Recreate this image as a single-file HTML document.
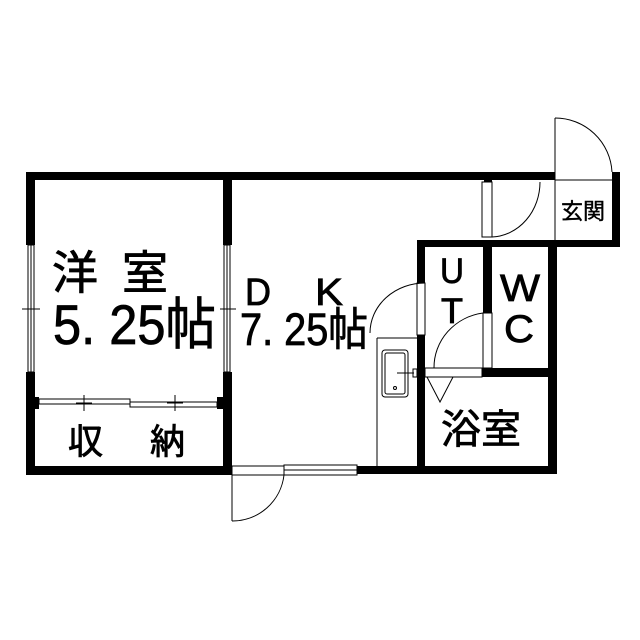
<!DOCTYPE html>
<html><head><meta charset="utf-8"><style>html,body{margin:0;padding:0;background:#fff}svg{display:block}</style></head>
<body>
<svg width="640" height="640" viewBox="0 0 640 640" xmlns="http://www.w3.org/2000/svg">
<rect width="640" height="640" fill="#fff"/>
<g fill="#000">
<rect x="26" y="172" width="529" height="8"/>
<rect x="26" y="172" width="9" height="73"/>
<rect x="26" y="372" width="9" height="103"/>
<rect x="26" y="466" width="206" height="9"/>
<rect x="223" y="172" width="9" height="73"/>
<rect x="223" y="372" width="9" height="103"/>
<rect x="357" y="466" width="200" height="8"/>
<rect x="612" y="172" width="8" height="75"/>
<rect x="417" y="240" width="203" height="7"/>
<rect x="484" y="172" width="8" height="10"/>
<rect x="417" y="240" width="8" height="43"/>
<rect x="417" y="335" width="8" height="139"/>
<rect x="483" y="240" width="9" height="73"/>
<rect x="482" y="368" width="73" height="9"/>
<rect x="548" y="240" width="9" height="234"/>
<rect x="33" y="397" width="6" height="12"/>
<rect x="217" y="397" width="6" height="12"/>
</g>
<g fill="none" stroke="#000" stroke-width="1">
<rect x="28" y="245" width="6" height="127"/>
<line x1="31" y1="245" x2="31" y2="372"/>
<line x1="22" y1="309" x2="40" y2="309"/>
<rect x="224" y="245" width="6" height="127"/>
<line x1="227" y1="245" x2="227" y2="372"/>
<line x1="220" y1="309" x2="236" y2="309"/>
<rect x="39" y="399" width="91" height="5"/>
<rect x="130" y="402" width="87" height="5"/>
<line x1="84" y1="395" x2="84" y2="411"/>
<line x1="76" y1="403" x2="92" y2="403"/>
<line x1="175" y1="395" x2="175" y2="411"/>
<line x1="167" y1="403" x2="183" y2="403"/>
<rect x="232" y="466" width="52" height="9"/>
<line x1="232" y1="475" x2="232" y2="521"/>
<path d="M232 521 A52 52 0 0 0 284 475"/>
<rect x="284" y="465" width="73" height="10"/>
<line x1="284" y1="470" x2="357" y2="470"/>
<line x1="555" y1="118" x2="555" y2="240"/>
<path d="M555 118 A57 57 0 0 1 612 172"/>
<line x1="555" y1="180" x2="612" y2="180"/>
<rect x="482" y="182" width="10" height="55"/>
<path d="M492 237 A50 55 0 0 0 540 182"/>
<rect x="417" y="283" width="8" height="52"/>
<path d="M425 283 A55 50 0 0 0 370 333"/>
<rect x="483" y="313" width="9" height="55"/>
<path d="M483 313 A57 55 0 0 0 434 368"/>
<rect x="425" y="368" width="57" height="9"/>
<path d="M427 377 L440 402 L453 377"/>
<line x1="377" y1="338" x2="377" y2="466"/>
<line x1="377" y1="338" x2="417" y2="338"/>
<rect x="382" y="350" width="26" height="47" rx="3"/>
<rect x="385" y="353" width="20" height="41" rx="2"/>
<line x1="397" y1="373" x2="414" y2="373"/>
<rect x="413" y="369" width="4" height="8"/>
<circle cx="395" cy="388" r="1.5"/>
</g>
<g font-family="'Liberation Sans','Noto Sans CJK JP',sans-serif" fill="#000" stroke="#000" stroke-width="0.8">
<text x="52" y="289" font-size="46">洋</text>
<text x="122" y="289" font-size="46">室</text>
<text x="53" y="344" font-size="56" textLength="163" lengthAdjust="spacingAndGlyphs">5. 25帖</text>
<text x="245" y="305" font-size="38" textLength="26" lengthAdjust="spacingAndGlyphs">D</text>
<text x="315" y="305" font-size="38" textLength="28" lengthAdjust="spacingAndGlyphs">K</text>
<text x="240" y="345" font-size="45" textLength="128" lengthAdjust="spacingAndGlyphs">7. 25帖</text>
<text x="68" y="454" font-size="35">収</text>
<text x="150" y="454" font-size="35">納</text>
<text x="440" y="283" font-size="35" textLength="24" lengthAdjust="spacingAndGlyphs">U</text>
<text x="441" y="323" font-size="35" textLength="22" lengthAdjust="spacingAndGlyphs">T</text>
<text x="500" y="301" font-size="38" textLength="40" lengthAdjust="spacingAndGlyphs">W</text>
<text x="504" y="342" font-size="39" textLength="30" lengthAdjust="spacingAndGlyphs">C</text>
<text x="441" y="443" font-size="40">浴室</text>
<text x="561" y="219" font-size="22" stroke-width="0.4">玄関</text>
</g>
</svg>
</body></html>
